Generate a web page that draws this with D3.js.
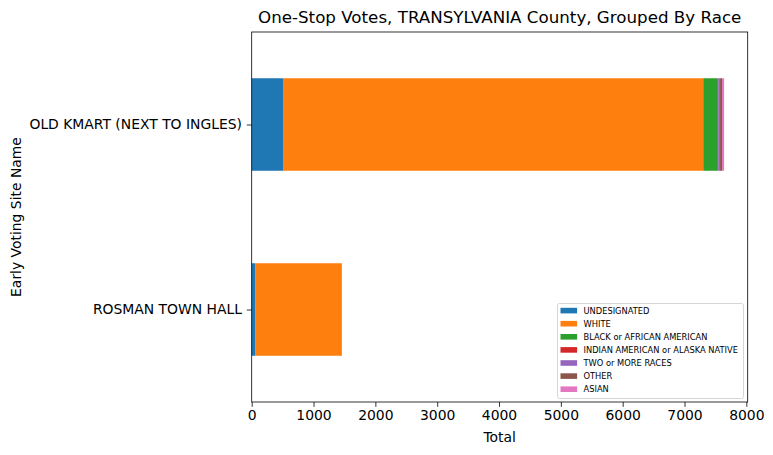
<!DOCTYPE html>
<html><head><meta charset="utf-8">
<script src="https://cdn.jsdelivr.net/npm/d3@7"></script>
<style>body{margin:0;background:#fff}svg{font-family:"DejaVu Sans",sans-serif}</style>
</head><body>
<script>
const sites = ["ROSMAN TOWN HALL", "OLD KMART (NEXT TO INGLES)"];
const races = ["UNDESIGNATED","WHITE","BLACK or AFRICAN AMERICAN","INDIAN AMERICAN or ALASKA NATIVE","TWO or MORE RACES","OTHER","ASIAN"];
const colors = ["#1f77b4","#ff7f0e","#2ca02c","#d62728","#9467bd","#8c564b","#e377c2"];
const rosman = [55, 1395, 3, 1, 4, 2, 0];
const kmart = [507, 6796, 237, 5, 30, 32, 33];
const xTicks = [0,1000,2000,3000,4000,5000,6000,7000,8000];
const title = "One-Stop Votes, TRANSYLVANIA County, Grouped By Race";

const W=773,H=455, L=251.7, R=747.7, T=32, B=402;
const svg=d3.select("body").append("svg").attr("width",W).attr("height",H);
const values=[rosman,kmart];
const totals=values.map(v=>d3.sum(v));
const xmax=d3.max(totals)*1.05;
const x=d3.scaleLinear().domain([0,xmax]).range([L,R]);
const y=d3.scaleLinear().domain([-0.5,1.5]).range([B,T]);

const stackData=sites.map((s,i)=>{const o={site:s,idx:i};races.forEach((r,j)=>o[r]=values[i][j]);return o;});
const series=d3.stack().keys(races)(stackData);
svg.append("g").selectAll("g").data(series).join("g").attr("fill",(d,i)=>colors[i])
 .selectAll("rect").data(d=>d).join("rect")
 .attr("x",d=>x(d[0])).attr("width",d=>x(d[1])-x(d[0]))
 .attr("y",d=>y(d.data.idx+0.25)).attr("height",d=>y(d.data.idx-0.25)-y(d.data.idx+0.25));

// axes
const xa=svg.append("g").attr("transform",`translate(0,${B})`).call(d3.axisBottom(x).tickValues(xTicks).tickSize(4.86).tickPadding(4.86).tickFormat(d3.format("d")));
const ya=svg.append("g").attr("transform",`translate(${L},0)`).call(d3.axisLeft(y).tickValues([0,1]).tickSize(4.86).tickPadding(4.86).tickFormat(i=>sites[i]));
[xa,ya].forEach(a=>{a.select(".domain").remove();a.selectAll("text").attr("font-size",13.9).attr("font-family","DejaVu Sans").attr("fill","#000");a.selectAll("line").attr("stroke","#000").attr("stroke-width",0.8);});
xa.selectAll("text").attr("dy","0.71em").attr("y",4.86+3.5);
svg.append("rect").attr("x",L).attr("y",T).attr("width",R-L).attr("height",B-T).attr("fill","none").attr("stroke","#000").attr("stroke-width",0.8);

svg.append("text").attr("x",(L+R)/2).attr("y",23).attr("text-anchor","middle").attr("font-size",16.7).text(title);
svg.append("text").attr("x",(L+R)/2).attr("y",442).attr("text-anchor","middle").attr("font-size",13.9).text("Total");
svg.append("text").attr("transform",`translate(21,${(T+B)/2}) rotate(-90)`).attr("text-anchor","middle").attr("font-size",13.9).text("Early Voting Site Name");

// legend
const lg=svg.append("g");
lg.append("rect").attr("x",557.5).attr("y",303.5).attr("width",186).attr("height",95).attr("rx",2).attr("fill","#fff").attr("fill-opacity",0.8).attr("stroke","#ccc").attr("stroke-width",0.8);
races.forEach((r,i)=>{
  const yy=310.5+i*13.1;
  lg.append("rect").attr("x",560.5).attr("y",yy-2.7).attr("width",16.6).attr("height",5.6).attr("fill",colors[i]);
  lg.append("text").attr("x",583.5).attr("y",yy+3).attr("font-size",8.3).text(r);
});
</script>
</body></html>
